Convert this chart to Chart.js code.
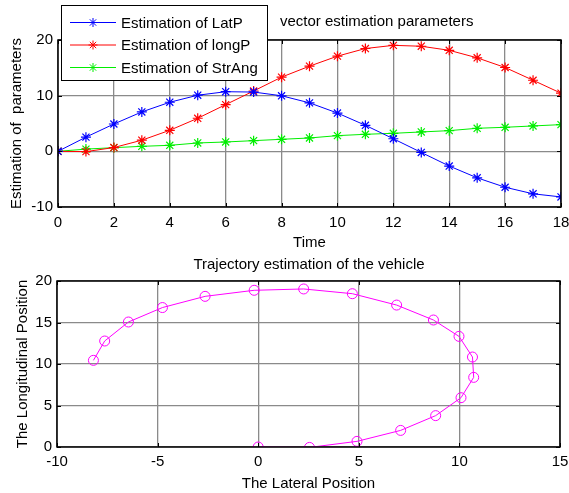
<!DOCTYPE html>
<html><head><meta charset="utf-8">
<script src="https://cdn.jsdelivr.net/npm/chart.js@4/dist/chart.umd.min.js"></script>
<style>
html,body{margin:0;padding:0;background:#fff;}
#wrap{position:relative;width:569px;height:493px;overflow:hidden;}
#c1{position:absolute;left:0;top:0;}
#c2{position:absolute;left:0;top:250px;}
</style></head><body>
<div id="wrap">
<canvas id="c1" width="569" height="250"></canvas>
<canvas id="c2" width="569" height="243"></canvas>
</div>
<script>
// ---- data ----
const time   = [0, 1, 2, 3, 4, 5, 6, 7, 8, 9, 10, 11, 12, 13, 14, 15, 16, 17, 18];
const latP   = [0, 2.55, 4.91, 7.08, 8.82, 10.08, 10.71, 10.65, 9.98, 8.71, 6.88, 4.68, 2.26, -0.2, -2.64, -4.76, -6.45, -7.63, -8.19];
const longP  = [0, -0.05, 0.68, 2.0, 3.78, 5.94, 8.39, 10.84, 13.33, 15.3, 17.1, 18.47, 19.04, 18.88, 18.15, 16.8, 15.06, 12.77, 10.44];
const strAng = [0, 0.4, 0.66, 0.9, 1.08, 1.5, 1.68, 1.92, 2.16, 2.4, 2.82, 3.06, 3.24, 3.48, 3.72, 4.14, 4.32, 4.56, 4.8];
const seriesNames = ['Estimation of LatP', 'Estimation of longP', 'Estimation of StrAng'];
const topTitle = 'vector estimation parameters';
const bottomTitle = 'Trajectory estimation of the vehicle';
const topXLabel = 'Time';
const topYLabel = 'Estimation of  parameters';
const botXLabel = 'The Lateral Position';
const botYLabel = 'The Longitudinal Position';

const FONT = "'Liberation Sans', Arial, Helvetica, sans-serif";
const FS = 15;
const fnt = {family: FONT, size: FS};

const boxPlugin = {
  id: 'matbox',
  afterDraw(chart, args, opts) {
    const {ctx, chartArea: a, scales} = chart;
    ctx.save();
    ctx.strokeStyle = '#000';
    ctx.lineWidth = 1;
    const tl = 4;
    const line = (x1, y1, x2, y2) => { ctx.beginPath(); ctx.moveTo(x1, y1); ctx.lineTo(x2, y2); ctx.stroke(); };
    scales.x.ticks.forEach(t => {
      const px = Math.round(scales.x.getPixelForValue(t.value)) + 0.5;
      line(px, a.bottom, px, a.bottom - tl);
      line(px, a.top, px, a.top + tl);
    });
    scales.y.ticks.forEach(t => {
      const py = Math.round(scales.y.getPixelForValue(t.value)) + 0.5;
      line(a.left, py, a.left + tl, py);
      line(a.right, py, a.right - tl, py);
    });
    ctx.lineWidth = 1.5;
    ctx.strokeRect(a.left, a.top, a.right - a.left, a.bottom - a.top);
    ctx.fillStyle = '#000';
    ctx.font = FS + "px " + FONT;
    if (opts.title) {
      ctx.textAlign = opts.title.align;
      ctx.textBaseline = 'middle';
      ctx.fillText(opts.title.text, opts.title.x, opts.title.y);
    }
    if (opts.legend) {
      const L = opts.legend;
      ctx.fillStyle = '#fff';
      ctx.fillRect(L.x, L.y, L.w, L.h);
      ctx.lineWidth = 1;
      ctx.strokeStyle = '#000';
      ctx.strokeRect(L.x + 0.5, L.y + 0.5, L.w, L.h);
      chart.data.datasets.forEach((ds, i) => {
        const cy = L.y + L.rowStart + i * L.rowGap;
        ctx.strokeStyle = ds.borderColor;
        ctx.lineWidth = 1;
        line(L.x + 9, cy, L.x + 55, cy);
        const cx = L.x + 32, r = 4.5;
        line(cx - r, cy, cx + r, cy);
        line(cx, cy - r, cx, cy + r);
        const d = r * 0.707;
        line(cx - d, cy - d, cx + d, cy + d);
        line(cx - d, cy + d, cx + d, cy - d);
        ctx.fillStyle = '#000';
        ctx.textAlign = 'left';
        ctx.textBaseline = 'middle';
        ctx.fillText(ds.label, L.x + 60, cy + 1);
      });
    }
    ctx.restore();
  }
};

const gridOpts = {color: '#8a8a8a', lineWidth: 1.3, drawTicks: false};

function mk(xs, ys) { return xs.map((v, i) => ({x: v, y: ys[i]})); }
function fitX(h) { return s => { s.height = h; s.paddingLeft = 0; s.paddingRight = 0; }; }
function fitY(w) { return s => { s.width = w; s.paddingTop = 0; s.paddingBottom = 0; }; }

const colors = ['#0000ff', '#ff0000', '#00ee00'];
const topSeries = [latP, longP, strAng];

new Chart(document.getElementById('c1'), {
  type: 'scatter',
  data: {
    datasets: topSeries.map((s, i) => ({
      label: seriesNames[i],
      data: mk(time, s),
      showLine: true,
      borderColor: colors[i],
      backgroundColor: colors[i],
      borderWidth: 1,
      pointStyle: 'star',
      pointRadius: 5,
      pointBorderWidth: 1.2,
      pointBorderColor: colors[i]
    }))
  },
  options: {
    responsive: false,
    animation: false,
    layout: {padding: {top: 40, right: 8, left: 0, bottom: 0}},
    plugins: {
      legend: {display: false},
      tooltip: {enabled: false},
      matbox: {
        title: {text: topTitle, x: 280, y: 22, align: 'left'},
        legend: {x: 61, y: 5, w: 206, h: 75, rowStart: 17.5, rowGap: 22.5}
      }
    },
    scales: {
      x: {
        type: 'linear', min: 0, max: 18,
        ticks: {stepSize: 2, color: '#000', font: fnt, padding: 7, maxRotation: 0},
        grid: gridOpts, border: {display: false},
        title: {display: true, text: topXLabel, color: '#000', font: fnt, padding: {top: 0, bottom: -2}},
        afterFit: fitX(43)
      },
      y: {
        min: -10, max: 20,
        ticks: {stepSize: 10, color: '#000', font: fnt, padding: 5},
        grid: gridOpts, border: {display: false},
        title: {display: true, text: topYLabel, color: '#000', font: fnt, padding: {top: 8, bottom: 0}},
        afterFit: fitY(58)
      }
    }
  },
  plugins: [boxPlugin]
});

new Chart(document.getElementById('c2'), {
  type: 'scatter',
  data: {
    datasets: [{
      label: 'trajectory',
      data: mk(latP, longP),
      showLine: true,
      borderColor: '#ff00ff',
      backgroundColor: 'rgba(0,0,0,0)',
      borderWidth: 1,
      pointStyle: 'circle',
      pointRadius: 5,
      pointBorderWidth: 1,
      pointBorderColor: '#ff00ff'
    }]
  },
  options: {
    responsive: false,
    animation: false,
    layout: {padding: {top: 31, right: 9, left: 0, bottom: 0}},
    plugins: {
      legend: {display: false},
      tooltip: {enabled: false},
      matbox: {
        title: {text: bottomTitle, x: 309, y: 15, align: 'center'}
      }
    },
    scales: {
      x: {
        type: 'linear', min: -10, max: 15,
        ticks: {stepSize: 5, color: '#000', font: fnt, padding: 6, maxRotation: 0},
        grid: gridOpts, border: {display: false},
        title: {display: true, text: botXLabel, color: '#000', font: fnt, padding: {top: 0, bottom: 0}},
        afterFit: fitX(46)
      },
      y: {
        min: 0, max: 20,
        ticks: {stepSize: 5, color: '#000', font: fnt, padding: 5},
        grid: gridOpts, border: {display: false},
        title: {display: true, text: botYLabel, color: '#000', font: fnt, padding: {top: 14, bottom: 0}},
        afterFit: fitY(57)
      }
    }
  },
  plugins: [boxPlugin]
});
</script>
</body></html>
